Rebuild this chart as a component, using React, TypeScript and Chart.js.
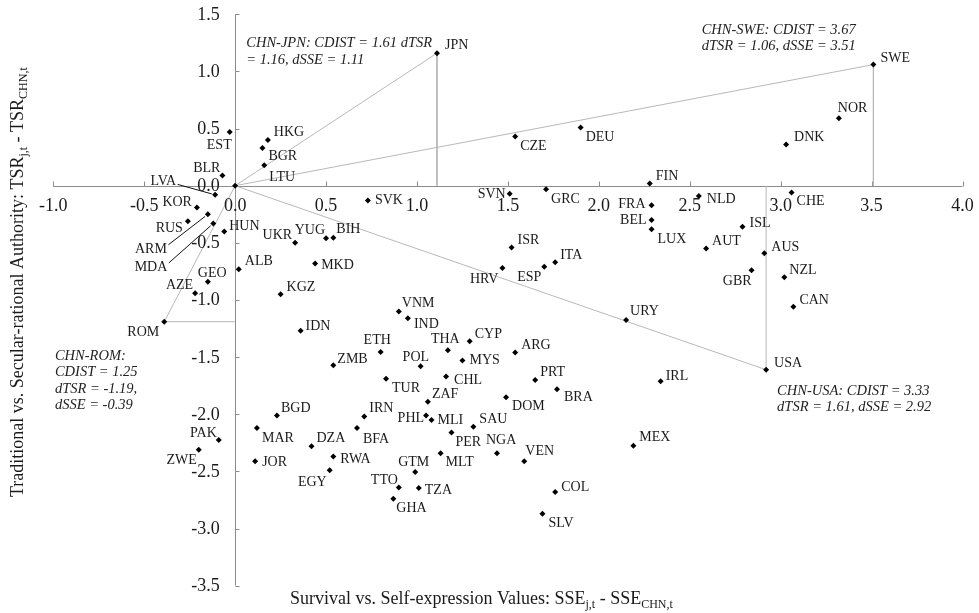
import React, { useEffect, useRef } from 'react';
import { Chart, registerables } from 'chart.js';

Chart.register(...registerables);

// ---------- data ----------
const countryCodes = [
  'CHN', 'JPN', 'SWE', 'USA', 'ROM', 'EST', 'HKG', 'BGR', 'LTU', 'BLR',
  'LVA', 'KOR', 'RUS', 'ARM', 'MDA', 'HUN', 'ALB', 'GEO', 'AZE', 'SVK',
  'SVN', 'CZE', 'DEU', 'FIN', 'GRC', 'FRA', 'NLD', 'BEL', 'LUX', 'ISL',
  'AUT', 'CHE', 'NOR', 'DNK', 'AUS', 'GBR', 'NZL', 'CAN', 'IRL', 'URY',
  'MEX', 'ISR', 'ITA', 'ESP', 'HRV', 'UKR', 'YUG', 'BIH', 'MKD', 'KGZ',
  'IDN', 'VNM', 'IND', 'ETH', 'ZMB', 'POL', 'THA', 'CYP', 'MYS', 'ARG',
  'TUR', 'CHL', 'ZAF', 'DOM', 'PRT', 'BRA', 'MLI', 'SAU', 'PER', 'NGA',
  'MLT', 'VEN', 'COL', 'SLV', 'BGD', 'MAR', 'JOR', 'DZA', 'RWA', 'EGY',
  'IRN', 'BFA', 'PHL', 'GTM', 'TTO', 'TZA', 'GHA', 'PAK', 'ZWE',
];

// Survival vs. Self-expression difference (x)
const sseDiff = [
  0, 1.11, 3.51, 2.92, -0.39, -0.03, 0.18, 0.15, 0.16, -0.07,
  -0.11, -0.21, -0.26, -0.15, -0.12, -0.06, 0.02, -0.15, -0.22, 0.73,
  1.51, 1.54, 1.90, 2.28, 1.71, 2.29, 2.55, 2.29, 2.29, 2.79,
  2.59, 3.06, 3.32, 3.03, 2.91, 2.84, 3.02, 3.07, 2.34, 2.15,
  2.19, 1.52, 1.76, 1.70, 1.47, 0.33, 0.50, 0.54, 0.44, 0.25,
  0.36, 0.90, 0.95, 0.80, 0.54, 1.02, 1.17, 1.29, 1.25, 1.54,
  0.83, 1.16, 1.06, 1.49, 1.65, 1.77, 1.08, 1.31, 1.19, 1.44,
  1.13, 1.59, 1.76, 1.69, 0.23, 0.12, 0.11, 0.42, 0.54, 0.52,
  0.71, 0.67, 1.05, 0.99, 0.90, 1.01, 0.87, -0.09, -0.20,
];

// Traditional vs. Secular-rational difference (y)
const tsrDiff = [
  0, 1.16, 1.06, -1.61, -1.19, 0.47, 0.40, 0.33, 0.18, 0.09,
  -0.08, -0.19, -0.31, -0.25, -0.33, -0.40, -0.73, -0.84, -0.94, -0.13,
  -0.07, 0.43, 0.51, 0.02, -0.03, -0.17, -0.09, -0.30, -0.38, -0.36,
  -0.55, -0.06, 0.59, 0.36, -0.59, -0.74, -0.80, -1.06, -1.71, -1.175,
  -2.275, -0.54, -0.67, -0.71, -0.72, -0.50, -0.46, -0.455, -0.68, -0.95,
  -1.27, -1.10, -1.16, -1.455, -1.57, -1.58, -1.44, -1.36, -1.53, -1.46,
  -1.69, -1.67, -1.89, -1.85, -1.70, -1.78, -2.05, -2.11, -2.16, -2.34,
  -2.34, -2.41, -2.68, -2.87, -2.01, -2.12, -2.41, -2.28, -2.37, -2.49,
  -2.02, -2.12, -2.01, -2.505, -2.64, -2.645, -2.74, -2.225, -2.31,
];

// countries compared to CHN with distance lines
const highlighted = ['JPN', 'SWE', 'USA', 'ROM'];

const xTickValues = [-1.0, -0.5, 0.0, 0.5, 1.0, 1.5, 2.0, 2.5, 3.0, 3.5, 4.0];
const xTickLabels = ['-1.0', '-0.5', '0.0', '0.5', '1.0', '1.5', '2.0', '2.5', '3.0', '3.5', '4.0'];
const yTickValues = [1.5, 1.0, 0.5, 0.0, -0.5, -1.0, -1.5, -2.0, -2.5, -3.0, -3.5];
const yTickLabels = ['1.5', '1.0', '0.5', '0.0', '-0.5', '-1.0', '-1.5', '-2.0', '-2.5', '-3.0', '-3.5'];

const X_MIN = -1, X_MAX = 4, Y_MIN = -3.5, Y_MAX = 1.5;

const annotationTexts = [
  { ref: 'JPN', lines: ['CHN-JPN: CDIST = 1.61 dTSR', '= 1.16, dSSE = 1.11'] },
  { ref: 'SWE', lines: ['CHN-SWE: CDIST = 3.67', 'dTSR = 1.06, dSSE = 3.51'] },
  { ref: 'USA', lines: ['CHN-USA: CDIST = 3.33', 'dTSR = 1.61, dSSE = 2.92'] },
  { ref: 'ROM', lines: ['CHN-ROM:', 'CDIST = 1.25', 'dTSR = -1.19,', 'dSSE = -0.39'] },
];

// ---------- layout / style config (pixels) ----------
const ANNOT_POS: Record<string, [number, number]> = {
  // [left x offset from point, first baseline offset from point]
  JPN: [-190.7, -6],
  SWE: [-171.7, -31],
  USA: [11, 25],
  ROM: [-109.3, 38],
};

const LABEL_PLACE: Record<string, [number, number, 'l' | 'r']> = {
  JPN: [8, -8, 'l'], SWE: [7, -6, 'l'], USA: [8, -6, 'l'], ROM: [-5, 11, 'r'],
  EST: [2, 13, 'r'], HKG: [6, -8, 'l'], BGR: [6, 8, 'l'], LTU: [5, 12, 'l'], BLR: [-2, -7, 'r'],
  LVA: [-39, -14, 'r'], KOR: [-5, -5, 'r'], RUS: [-5, 7, 'r'], ARM: [-41, 35, 'r'], MDA: [-46, 44, 'r'],
  HUN: [5, -5.5, 'l'], ALB: [6, -8, 'l'], GEO: [-10, -8, 'l'], AZE: [-2, -8, 'r'],
  SVK: [7, 0, 'l'], SVN: [-4, 1, 'r'], CZE: [5, 10, 'l'], DEU: [5, 10, 'l'], FIN: [6, -7, 'l'], GRC: [5, 10, 'l'],
  FRA: [-6, -1, 'r'], NLD: [8, 3, 'l'], BEL: [-5, 0, 'r'], LUX: [6, 10, 'l'], ISL: [7, -4, 'l'], AUT: [6, -7, 'l'],
  CHE: [5, 9, 'l'], NOR: [-1, -10, 'l'], DNK: [8, -7, 'l'], AUS: [7, -6, 'l'], GBR: [0, 11, 'r'], NZL: [5, -7, 'l'],
  CAN: [6, -7, 'l'], IRL: [5, -5, 'l'], URY: [4, -9, 'l'], MEX: [6, -8, 'l'], ISR: [6, -7, 'l'], ITA: [5, -7, 'l'],
  ESP: [-3, 10, 'r'], HRV: [-4, 11, 'r'], UKR: [-3, -8, 'r'], YUG: [-1, -7.5, 'r'], BIH: [3, -8, 'l'], MKD: [6, 2, 'l'],
  KGZ: [6, -7, 'l'], IDN: [5, -5, 'l'], VNM: [3, -8, 'l'], IND: [6, 6, 'l'], ETH: [-17, -12, 'l'], ZMB: [4, -6, 'l'],
  POL: [-18, -9, 'l'], THA: [-17, -11, 'l'], CYP: [5, -7, 'l'], MYS: [7, 0, 'l'], ARG: [6, -7.5, 'l'], TUR: [6, 9, 'l'],
  CHL: [8, 3.5, 'l'], ZAF: [4, -7, 'l'], DOM: [6, 9.5, 'l'], PRT: [5, -8, 'l'], BRA: [7, 8, 'l'], MLI: [6, 0.7, 'l'],
  SAU: [6, -8, 'l'], PER: [4, 9.5, 'l'], NGA: [-11, -13, 'l'], MLT: [5, 9, 'l'], VEN: [1, -9.5, 'l'], COL: [6, -5, 'l'],
  SLV: [6, 10, 'l'], BGD: [4, -7, 'l'], MAR: [5, 10, 'l'], JOR: [7, 1.5, 'l'], DZA: [5, -8, 'l'], RWA: [7, 3, 'l'],
  EGY: [-3, 12, 'r'], IRN: [5, -8, 'l'], BFA: [6, 11, 'l'], PHL: [-2, 2.6, 'r'], GTM: [-17, -10, 'l'], TTO: [-1, -7, 'r'],
  TZA: [6, 2, 'l'], GHA: [3, 9.5, 'l'], PAK: [-2, -7, 'r'], ZWE: [-2, 11, 'r'],
};
const LEADER_LABELS = ['LVA', 'ARM', 'MDA'];

const FONT = '"Liberation Serif", "Times New Roman", serif';
const AXIS_COLOR = '#8c8c8c';
const GUIDE_COLOR = '#b8b8b8';
const TEXT_COLOR = '#1a1a1a';

type Part = [string, boolean];
const xTitleParts: Part[] = [['Survival vs. Self-expression Values: SSE', false], ['j,t', true], [' - SSE', false], ['CHN,t', true]];
const yTitleParts: Part[] = [['Traditional vs. Secular-rational Authority: TSR', false], ['j,t', true], [' - TSR', false], ['CHN,t', true]];

function drawRich(ctx: CanvasRenderingContext2D, parts: Part[], x: number, y: number, size: number, subSize: number, subShift: number) {
  let cx = x;
  for (const [text, sub] of parts) {
    ctx.font = `${sub ? subSize : size}px ${FONT}`;
    ctx.fillText(text, cx, sub ? y + subShift : y);
    cx += ctx.measureText(text).width;
  }
}

const axesPlugin = {
  id: 'crossAxes',
  beforeDatasetsDraw(chart: any) {
    const { ctx } = chart;
    const xs = chart.scales.x, ys = chart.scales.y;
    const xA = Math.round(xs.getPixelForValue(0)) + 0.5;
    const yA = Math.round(ys.getPixelForValue(0)) + 0.5;
    ctx.save();
    ctx.strokeStyle = AXIS_COLOR;
    ctx.lineWidth = 1;
    ctx.beginPath();
    ctx.moveTo(xs.getPixelForValue(X_MIN), yA);
    ctx.lineTo(xs.getPixelForValue(X_MAX), yA);
    for (const t of xTickValues) {
      const px = Math.round(xs.getPixelForValue(t)) + 0.5;
      ctx.moveTo(px, yA);
      ctx.lineTo(px, yA - 5);
    }
    ctx.moveTo(xA, ys.getPixelForValue(Y_MAX));
    ctx.lineTo(xA, ys.getPixelForValue(Y_MIN));
    for (const t of yTickValues) {
      const py = Math.round(ys.getPixelForValue(t)) + 0.5;
      ctx.moveTo(xA, py);
      ctx.lineTo(xA + 4, py);
    }
    ctx.stroke();
    ctx.restore();
  },
  afterDatasetsDraw(chart: any) {
    const { ctx } = chart;
    const xs = chart.scales.x, ys = chart.scales.y;
    const x0 = xs.getPixelForValue(0), y0 = ys.getPixelForValue(0);
    ctx.save();
    ctx.fillStyle = TEXT_COLOR;
    ctx.font = `18px ${FONT}`;
    ctx.textBaseline = 'middle';
    ctx.textAlign = 'center';
    xTickValues.forEach((t, i) => ctx.fillText(xTickLabels[i], xs.getPixelForValue(t), y0 + 21));
    ctx.textAlign = 'right';
    yTickValues.forEach((t, i) => ctx.fillText(yTickLabels[i], x0 - 15.5, ys.getPixelForValue(t) + 0.7));

    // axis titles
    ctx.textAlign = 'left';
    ctx.textBaseline = 'alphabetic';
    drawRich(ctx, xTitleParts, 290, 604, 18, 12, 4);
    ctx.save();
    ctx.translate(23, 497);
    ctx.rotate(-Math.PI / 2);
    drawRich(ctx, yTitleParts, 0, 0, 18, 12, 4);
    ctx.restore();
    ctx.restore();
  },
};

const labelsPlugin = {
  id: 'countryLabels',
  afterDatasetsDraw(chart: any) {
    const { ctx } = chart;
    const meta = chart.getDatasetMeta(0);
    ctx.save();
    ctx.fillStyle = TEXT_COLOR;
    ctx.strokeStyle = '#111';
    ctx.lineWidth = 1;
    ctx.font = `14px ${FONT}`;
    ctx.textBaseline = 'middle';
    countryCodes.forEach((code, i) => {
      const place = LABEL_PLACE[code];
      if (!place) return;
      const el = meta.data[i];
      const px = el.x, py = el.y;
      const [dx, dy, align] = place;
      ctx.textAlign = align === 'l' ? 'left' : 'right';
      ctx.fillText(code, px + dx, py + dy);
      if (LEADER_LABELS.includes(code)) {
        const sx = px + dx + 1.5;
        const sy = py + dy + (dy < 0 ? 3.5 : -4.5);
        const ang = Math.atan2(py - sy, px - sx);
        ctx.beginPath();
        ctx.moveTo(sx, sy);
        ctx.lineTo(px - Math.cos(ang) * 3.5, py - Math.sin(ang) * 3.5);
        ctx.stroke();
      }
    });

    // comparison annotations
    ctx.font = `italic 14.5px ${FONT}`;
    ctx.textAlign = 'left';
    ctx.textBaseline = 'alphabetic';
    ctx.fillStyle = '#222';
    annotationTexts.forEach((a) => {
      const idx = countryCodes.indexOf(a.ref);
      const el = meta.data[idx];
      const [ox, oy] = ANNOT_POS[a.ref];
      a.lines.forEach((line, k) => ctx.fillText(line, el.x + ox, el.y + oy + k * 16.4));
    });
    ctx.restore();
  },
};

export default function App() {
  const canvasRef = useRef<HTMLCanvasElement | null>(null);

  useEffect(() => {
    const canvas = canvasRef.current;
    if (!canvas) return;

    const points = countryCodes.map((_, i) => ({ x: sseDiff[i], y: tsrDiff[i] }));
    const guideSets = highlighted.map((code) => {
      const i = countryCodes.indexOf(code);
      const px = sseDiff[i], py = tsrDiff[i];
      const foot = Math.abs(px) > 0.6 ? { x: px, y: 0 } : { x: 0, y: py };
      return {
        type: 'scatter' as const,
        data: [{ x: 0, y: 0 }, { x: px, y: py }, foot],
        showLine: true,
        borderColor: GUIDE_COLOR,
        borderWidth: 1,
        pointRadius: 0,
        fill: false,
        order: 2,
      };
    });

    const chart = new Chart(canvas, {
      type: 'scatter',
      data: {
        datasets: [
          {
            data: points,
            pointStyle: 'rectRot',
            pointRadius: 3,
            pointBorderWidth: 0,
            backgroundColor: '#000',
            borderColor: '#000',
            order: 1,
          } as any,
          ...guideSets,
        ],
      },
      options: {
        responsive: false,
        animation: false,
        devicePixelRatio: 1,
        events: [],
        layout: { padding: { left: 53.3, right: 16.5, top: 14.3, bottom: 27.3 } },
        plugins: { legend: { display: false }, tooltip: { enabled: false } },
        scales: {
          x: { type: 'linear', min: X_MIN, max: X_MAX, display: false },
          y: { type: 'linear', min: Y_MIN, max: Y_MAX, display: false },
        },
      },
      plugins: [axesPlugin, labelsPlugin],
    });
    return () => chart.destroy();
  }, []);

  return (
    <div style={{ position: 'fixed', left: 0, top: 0, width: 979, height: 613, background: '#fff' }}>
      <canvas ref={canvasRef} width={979} height={613} style={{ display: 'block' }} />
    </div>
  );
}
